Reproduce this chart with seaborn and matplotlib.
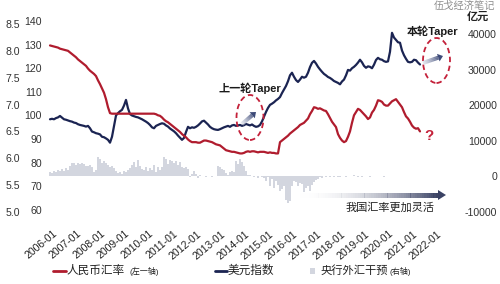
import numpy as np
import pandas as pd
import matplotlib
matplotlib.use("Agg")
import matplotlib.pyplot as plt
import seaborn as sns
from matplotlib.patches import Ellipse, Polygon, Rectangle
from matplotlib.lines import Line2D
from matplotlib.transforms import ScaledTranslation

# ---------------- data (monthly, 2006-01 .. 2021-06) ----------------
tick_labels = [f"{y}-01" for y in range(2006, 2023)]

rmb = [
    8.10, 8.09, 8.08, 8.07, 8.06, 8.04, 8.03, 8.02, 8.01, 8.00, 7.97, 7.94,   # 2006
    7.91, 7.88, 7.84, 7.81, 7.78, 7.75, 7.72, 7.67, 7.63, 7.60, 7.57, 7.53,   # 2007
    7.45, 7.38, 7.30, 7.22, 7.10, 6.95, 6.84, 6.83, 6.83, 6.83, 6.83, 6.83,   # 2008
    6.83, 6.83, 6.83, 6.83, 6.83, 6.83, 6.83, 6.83, 6.83, 6.83, 6.83, 6.83,   # 2009
    6.83, 6.83, 6.83, 6.83, 6.83, 6.82, 6.80, 6.79, 6.76, 6.72, 6.69, 6.67,   # 2010
    6.64, 6.61, 6.58, 6.55, 6.52, 6.49, 6.45, 6.42, 6.39, 6.35, 6.32, 6.30,   # 2011
    6.30, 6.30, 6.29, 6.29, 6.31, 6.33, 6.33, 6.32, 6.31, 6.30, 6.28, 6.26,   # 2012
    6.25, 6.24, 6.21, 6.18, 6.15, 6.14, 6.13, 6.12, 6.12, 6.11, 6.10, 6.09,   # 2013
    6.09, 6.10, 6.12, 6.13, 6.12, 6.13, 6.13, 6.12, 6.11, 6.12, 6.12, 6.12,   # 2014
    6.11, 6.10, 6.11, 6.10, 6.10, 6.09, 6.09, 6.30, 6.33, 6.36, 6.39, 6.42,   # 2015
    6.46, 6.49, 6.52, 6.55, 6.58, 6.62, 6.64, 6.66, 6.70, 6.74, 6.82, 6.88,   # 2016
    6.95, 6.94, 6.92, 6.93, 6.91, 6.89, 6.88, 6.82, 6.75, 6.68, 6.63, 6.58,   # 2017
    6.45, 6.38, 6.33, 6.30, 6.32, 6.40, 6.50, 6.66, 6.80, 6.86, 6.92, 6.90,   # 2018
    6.86, 6.82, 6.78, 6.73, 6.76, 6.85, 6.90, 6.98, 7.08, 7.07, 7.05, 7.00,   # 2019
    6.98, 6.98, 7.02, 7.06, 7.08, 7.10, 7.05, 7.00, 6.95, 6.86, 6.78, 6.74,   # 2020
    6.68, 6.61, 6.57, 6.55, 6.56, 6.50,                                       # 2021
]

usd_index = [
    98.4, 98.6, 98.4, 98.9, 99.2, 99.8, 99.1, 98.4, 98.2, 97.9, 97.6, 97.4,   # 2006
    97.0, 96.8, 96.3, 96.0, 95.8, 95.6, 95.3, 95.6, 94.6, 93.2, 92.9, 92.5,   # 2007
    92.3, 92.0, 91.0, 90.8, 90.3, 89.7, 88.5, 91.0, 95.5, 100.0, 101.0, 101.8,  # 2008
    102.4, 104.2, 106.6, 103.0, 100.6, 100.0, 99.7, 99.4, 99.2, 98.8, 98.4, 97.9,  # 2009
    97.4, 96.8, 96.0, 95.0, 94.6, 95.6, 96.0, 96.4, 96.7, 96.5, 95.8, 95.3,   # 2010
    94.5, 93.9, 93.3, 92.5, 91.5, 90.6, 89.7, 90.5, 93.0, 95.2, 94.6, 95.0,   # 2011
    94.8, 95.2, 95.8, 96.6, 97.5, 97.8, 97.0, 96.2, 95.2, 94.6, 94.2, 94.0,   # 2012
    93.9, 94.2, 94.6, 95.0, 95.3, 95.6, 95.2, 95.8, 96.0, 95.6, 95.8, 96.0,   # 2013
    95.6, 95.9, 96.4, 96.1, 95.8, 96.2, 95.6, 95.2, 95.4, 96.0, 97.5, 99.5,   # 2014
    101.5, 103.2, 104.5, 105.0, 105.6, 106.4, 107.0, 107.8, 109.5, 111.0, 112.5, 114.5,  # 2015
    117.0, 118.1, 116.4, 115.0, 114.2, 115.2, 116.4, 116.0, 116.4, 118.1, 120.5, 122.3,  # 2016
    123.1, 122.0, 120.6, 119.5, 118.5, 117.6, 117.0, 116.3, 115.9, 115.3, 114.6, 114.2,  # 2017
    113.8, 113.2, 114.4, 115.2, 117.0, 119.3, 119.0, 120.0, 120.6, 121.4, 122.4, 123.6,  # 2018
    122.5, 121.0, 120.2, 120.8, 120.6, 120.0, 121.5, 123.5, 124.4, 123.8, 123.6, 123.0,  # 2019
    122.7, 122.9, 127.0, 135.0, 133.0, 132.0, 131.0, 130.8, 127.5, 125.5, 124.0, 122.7,  # 2020
    122.5, 122.7, 123.6, 123.4, 122.4, 121.6,                                             # 2021
]

fx_intervention = [
    1200, 900, 1500, 1100, 1800, 1400, 2200, 1600, 2400, 1900, 2800, 3700,    # 2006
    3900, 3300, 3700, 3500, 3900, 3600, 3000, 2800, 3300, 2600, 1200, 1800,   # 2007
    5400, 4800, 3900, 4200, 3800, 3300, 2600, 3000, 2300, 1600, 900, 1300,    # 2008
    800, 1500, 1100, 1800, 2400, 3200, 4000, 2600, 4600, 2900, 2200, 1700,    # 2009
    2600, 1400, 2300, 1900, 3100, 1200, 2500, 1800, 2700, 5400, 4900, 3600,   # 2010
    4500, 4200, 3800, 4400, 3100, 4100, 2600, 2300, 2500, 2000, -300, 800,    # 2011
    1400, 700, -400, 300, 200, 100, -100, 0, 100, -100, 50, 0,                # 2012
    3000, 2700, 2200, 1800, 1000, 400, 1200, 1400, 1100, 4200, 3600, 4800,    # 2013
    4000, 2800, 1500, 400, 300, 200, -200, 100, -400, 200, -300, -500,        # 2014
    -1200, -300, -2600, -800, -3300, -1400, -2500, -4200, -3600, -2800, -6600, -7600,  # 2015
    -6900, -2700, -1300, -1500, -2800, -1800, -2200, -4400, -3200, -2600, -4100, -2300,  # 2016
    -1600, -1000, -600, -300, -400, 200, -200, 100, -300, 200, -100, 100,     # 2017
    -200, -100, 100, 0, -100, 0, 50, 100, 300, 0, -100, 50,                   # 2018
    -50, 50, 0, 0, -50, 0, 0, 50, 0, 0, 0, -50,                               # 2019
    0, 50, 0, 0, 50, 0, 0, 0, 0, 50, 0, 0,                                    # 2020
    0, 50, 0, 0, 0, 50,                                                       # 2021
]

n = len(rmb)
df = pd.DataFrame({
    "m": np.arange(n),
    "rmb": rmb,
    "usd": usd_index,
    "fx": fx_intervention,
})

# ---------------- style ----------------
sns.set_theme(style="white")
plt.rcParams["font.family"] = ["Liberation Sans", "Noto Sans CJK SC", "DejaVu Sans"]
plt.rcParams["axes.unicode_minus"] = False

W, H = 500, 284
RED = "#b01c2e"
NAVY = "#1b2452"
BARC = "#d3d6df"
TXT = "#333333"

fig = plt.figure(figsize=(W / 100, H / 100), dpi=100)
fig.patch.set_facecolor("white")

def fx_(px):
    return px / W

def fy_(py):
    return 1 - py / H

ax_left, ax_right, ax_top, ax_bot = 45, 445, 21, 212
ax_bar = fig.add_axes([fx_(ax_left), fy_(ax_bot), (ax_right - ax_left) / W, (ax_bot - ax_top) / H])
ax_blue = ax_bar.twinx()
ax_red = ax_bar.twinx()

# bars (right axis)
sns.barplot(data=df, x="m", y="fx", native_scale=True, color=BARC, errorbar=None,
            width=0.55, linewidth=0, saturation=1, ax=ax_bar)
# lines
sns.lineplot(data=df, x="m", y="usd", color=NAVY, lw=1.6, ax=ax_blue)
sns.lineplot(data=df, x="m", y="rmb", color=RED, lw=1.6, ax=ax_red)

for a in (ax_bar, ax_blue, ax_red):
    a.set_xlabel("")
    a.set_ylabel("")
    for s in a.spines.values():
        s.set_visible(False)
    a.patch.set_visible(False)

ax_bar.set_xlim(-2.5, 197.5)
ax_bar.set_ylim(-10000, 43650)
ax_blue.set_ylim(59.15, 140)
ax_red.set_ylim(5.037, 8.555)

# x ticks
ax_bar.set_xticks(np.arange(0, 12 * len(tick_labels), 12))
ax_bar.set_xticklabels(tick_labels, rotation=40, ha="right", va="top",
                       rotation_mode="anchor", fontsize=7.6, color="#222222")
ax_bar.tick_params(axis="x", length=0, pad=12)
for lab in ax_bar.get_xticklabels():
    lab.set_transform(lab.get_transform() + ScaledTranslation(3 / 100, 0, fig.dpi_scale_trans))

# right axis (bars)
ax_bar.yaxis.tick_right()
ax_bar.set_yticks([-10000, 0, 10000, 20000, 30000, 40000])
ax_bar.set_yticklabels(["-10000", "0", "10000", "20000", "30000", "40000"], fontsize=7.6, color=TXT)
ax_bar.tick_params(axis="y", length=0, pad=37.4)
for lab in ax_bar.get_yticklabels():
    lab.set_ha("right")

# left axis (USD index)
ax_blue.yaxis.tick_left()
ax_blue.set_yticks([60, 70, 80, 90, 100, 110, 120, 130, 140])
ax_blue.set_yticklabels(["60", "70", "80", "90", "100", "110", "120", "130", "140"], fontsize=7.6, color=TXT)
ax_blue.tick_params(axis="y", length=0, pad=2.2)

# outer left axis (RMB)
ax_red.yaxis.tick_left()
ax_red.set_yticks([5.0, 5.5, 6.0, 6.5, 7.0, 7.5, 8.0, 8.5])
ax_red.set_yticklabels(["5.0", "5.5", "6.0", "6.5", "7.0", "7.5", "8.0", "8.5"], fontsize=7.6, color=TXT)
ax_red.tick_params(axis="y", length=0, pad=18)
ax_red.tick_params(axis="x", length=0, labelbottom=False)
ax_blue.tick_params(axis="x", length=0, labelbottom=False)

# ---------------- annotations ----------------
def grad_arrow(x0, y0, x1, y1, thick, head_len, head_w, c0, c1, nseg=40, alpha0=0.0):
    c0 = np.array(matplotlib.colors.to_rgb(c0))
    c1 = np.array(matplotlib.colors.to_rgb(c1))
    p0 = np.array([x0, y0], float)
    p1 = np.array([x1, y1], float)
    d = p1 - p0
    L = np.hypot(*d)
    u = d / L
    nrm = np.array([-u[1], u[0]])
    shaft_end = p1 - u * head_len
    for k in range(nseg):
        t0, t1 = k / nseg, (k + 1.05) / nseg
        a = p0 + (shaft_end - p0) * t0
        b = p0 + (shaft_end - p0) * min(t1, 1)
        pts = [a + nrm * thick / 2, b + nrm * thick / 2, b - nrm * thick / 2, a - nrm * thick / 2]
        tt = (k + 0.5) / nseg
        col = c0 * (1 - tt) + c1 * tt
        al = alpha0 + (1 - alpha0) * tt
        fig.add_artist(Polygon([(fx_(p[0]), fy_(p[1])) for p in pts], closed=True,
                               transform=fig.transFigure, facecolor=col, alpha=al, lw=0))
    head = [shaft_end + nrm * head_w / 2, p1, shaft_end - nrm * head_w / 2]
    fig.add_artist(Polygon([(fx_(p[0]), fy_(p[1])) for p in head], closed=True,
                           transform=fig.transFigure, facecolor=c1, lw=0))

# ellipses
for cx, cy in [(250, 117.5), (436.5, 60.5)]:
    fig.add_artist(Ellipse((fx_(cx), fy_(cy)), 27 / W, 45 / H, transform=fig.transFigure,
                           fill=False, edgecolor="#c4213a", lw=1.3, ls=(0, (3, 2))))

grad_arrow(242, 124, 256, 112, 4, 5, 8, "#d6dae6", "#3d4a78", nseg=20, alpha0=0.6)
grad_arrow(423, 63, 443, 56, 4, 5, 8, "#d6dae6", "#3d4a78", nseg=20, alpha0=0.6)
grad_arrow(300, 195, 446, 195, 5, 8, 10, "#ffffff", "#3a4264", nseg=60, alpha0=0.0)

fig.text(fx_(250), fy_(88), "上一轮Taper", ha="center", va="center", fontsize=8,
         fontweight="bold", color="#1a1a1a")
fig.text(fx_(433), fy_(31), "本轮Taper", ha="center", va="center", fontsize=8,
         fontweight="bold", color="#1a1a1a")
fig.text(fx_(429), fy_(136), "?", ha="center", va="center", fontsize=11,
         fontweight="bold", color="#c4213a")
fig.text(fx_(390), fy_(208), "我国汇率更加灵活", ha="center", va="center", fontsize=8,
         color="#222222")
fig.text(fx_(478), fy_(17), "亿元", ha="center", va="center", fontsize=8,
         fontweight="bold", color="#222222")
fig.text(fx_(465), fy_(6), "伍戈经济笔记", ha="center", va="center", fontsize=7.4,
         color="#8f8f8f")

# legend (manual)
ly = 271
fig.add_artist(Line2D([fx_(53), fx_(66)], [fy_(ly), fy_(ly)], transform=fig.transFigure,
                      color=RED, lw=2))
fig.text(fx_(67), fy_(ly), "人民币汇率", ha="left", va="center", fontsize=8.4, color="#222222")
fig.text(fx_(130), fy_(ly), "(左一轴)", ha="left", va="center", fontsize=5.8, color="#222222")
fig.add_artist(Line2D([fx_(215), fx_(227)], [fy_(ly), fy_(ly)], transform=fig.transFigure,
                      color=NAVY, lw=2))
fig.text(fx_(228), fy_(ly), "美元指数", ha="left", va="center", fontsize=8.4, color="#222222")
fig.add_artist(Rectangle((fx_(310), fy_(274)), 5 / W, 6 / H, transform=fig.transFigure,
                         facecolor=BARC, lw=0))
fig.text(fx_(320), fy_(ly), "央行外汇干预", ha="left", va="center", fontsize=8.1, color="#222222")
fig.text(fx_(390), fy_(ly), "(右轴)", ha="left", va="center", fontsize=5.8, color="#222222")

fig.savefig("out.png", dpi=100, facecolor="white")
